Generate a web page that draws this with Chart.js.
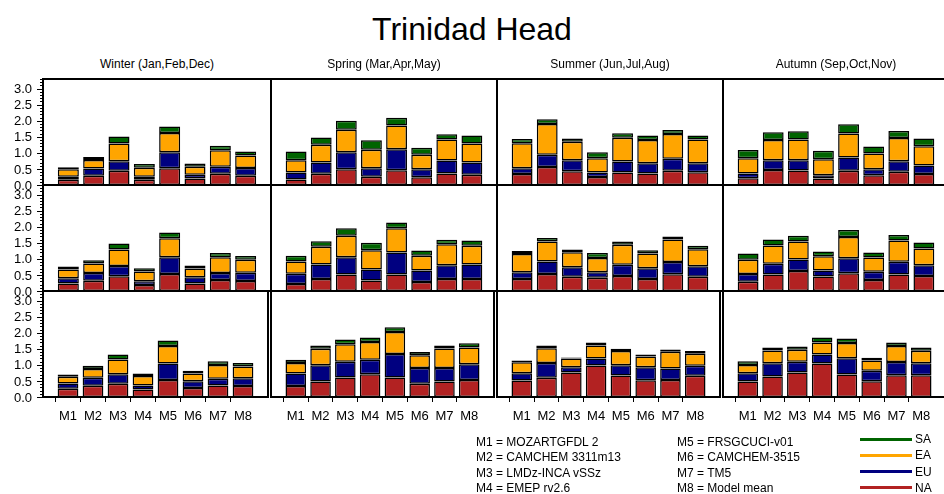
<!DOCTYPE html>
<html>
<head>
<meta charset="utf-8">
<script src="https://cdn.jsdelivr.net/npm/chart.js@4.4.1/dist/chart.umd.min.js"></script>
<style>
  body { margin: 0; background: #fff; width: 944px; height: 494px; overflow: hidden; position: relative;
         font-family: "Liberation Sans", Arial, sans-serif; color: #000; }
  canvas { position: absolute; }
  .txt { position: absolute; white-space: nowrap; line-height: 1; }
  .title { font-size: 32px; }
  .season { font-size: 12px; transform: translateX(-50%); }
  .leg { font-size: 12px; }
  .legline { position: absolute; height: 3px; }
</style>
</head>
<body>
<script>
// Trinidad Head: contribution by source region, per season and model
const models = ['M1', 'M2', 'M3', 'M4', 'M5', 'M6', 'M7', 'M8'];
const seasons = ['Winter (Jan,Feb,Dec)', 'Spring (Mar,Apr,May)', 'Summer (Jun,Jul,Aug)', 'Autumn (Sep,Oct,Nov)'];
const modelNames = ['MOZARTGFDL 2', 'CAMCHEM 3311m13', 'LMDz-INCA vSSz', 'EMEP rv2.6',
                    'FRSGCUCI-v01', 'CAMCHEM-3515', 'TM5', 'Model mean'];
const regions = ['NA', 'EU', 'EA', 'SA'];
const regionColors = ['#b22222', '#000080', '#ffa500', '#006400'];
const yTicks = [0, 0.5, 1.0, 1.5, 2.0, 2.5, 3.0];

// [row][season] -> 8 model values
const naData = [
  [[.16,.29,.44,.16,.52,.20,.35,.29], [.17,.35,.49,.26,.46,.24,.36,.32], [.34,.56,.43,.25,.39,.36,.44,.40], [.21,.47,.45,.20,.44,.30,.41,.34]],
  [[.23,.32,.46,.19,.53,.23,.34,.31], [.22,.375,.51,.33,.51,.28,.375,.375], [.375,.53,.44,.41,.47,.375,.52,.44], [.29,.51,.625,.45,.55,.34,.51,.47]],
  [[.26,.35,.41,.23,.53,.28,.36,.34], [.34,.48,.61,.71,.61,.41,.48,.53], [.51,.60,.76,.98,.67,.52,.53,.66], [.48,.635,.76,1.04,.70,.49,.68,.68]]
];
const euData = [
  [[.10,.22,.30,.10,.50,.12,.22,.24], [.22,.35,.53,.26,.65,.25,.40,.38], [.18,.38,.34,.14,.34,.32,.38,.28], [.15,.30,.32,.10,.42,.19,.33,.27]],
  [[.17,.24,.32,.11,.52,.20,.22,.26], [.32,.45,.54,.34,.69,.36,.43,.45], [.21,.39,.30,.17,.35,.33,.38,.33], [.24,.34,.355,.19,.47,.26,.40,.33]],
  [[.16,.25,.30,.13,.51,.21,.21,.24], [.39,.51,.49,.45,.73,.49,.42,.49], [.23,.46,.17,.22,.32,.41,.355,.31], [.26,.415,.34,.28,.51,.33,.41,.37]]
];
const eaData = [
  [[.23,.27,.55,.28,.60,.25,.51,.39], [.38,.55,.70,.58,.74,.45,.66,.59], [.78,.96,.58,.44,.74,.72,.77,.74], [.47,.63,.65,.50,.74,.49,.72,.60]],
  [[.27,.30,.51,.31,.59,.27,.49,.40], [.38,.55,.67,.60,.75,.46,.65,.58], [.57,.62,.47,.45,.62,.46,.70,.53], [.44,.57,.56,.44,.66,.44,.66,.52]],
  [[.21,.27,.46,.29,.55,.24,.43,.37], [.33,.51,.54,.55,.68,.40,.61,.52], [.34,.46,.27,.40,.44,.33,.52,.38], [.26,.40,.37,.38,.47,.315,.50,.39]]
];
const saData = [
  [[.06,.09,.22,.11,.20,.10,.14,.12], [.27,.23,.28,.29,.24,.22,.16,.25], [.13,.15,.10,.19,.14,.14,.12,.12], [.26,.24,.25,.27,.29,.22,.22,.24]],
  [[.09,.10,.19,.10,.18,.09,.13,.12], [.18,.17,.23,.23,.18,.16,.14,.17], [.09,.11,.08,.15,.10,.10,.10,.11], [.20,.18,.18,.15,.22,.16,.17,.19]],
  [[.07,.10,.15,.08,.17,.09,.11,.11], [.10,.10,.15,.14,.15,.10,.09,.13], [.06,.08,.03,.10,.07,.06,.07,.08], [.11,.09,.10,.15,.14,.09,.11,.10]]
];
const allData = [naData, euData, eaData, saData];

// panel geometry (plot area)
const colLeft = [43, 271, 497, 723];
const colRight = [271, 497, 723, 949];
const rowTop = 79;
const rowH = 106;
const yAxisW = 45, padTop = 8, padRight = 4, xAxisH = 30;

function addText(cls, text, x, y) {
  const d = document.createElement('div');
  d.className = 'txt ' + cls;
  d.textContent = text;
  d.style.left = x + 'px';
  d.style.top = y + 'px';
  document.body.appendChild(d);
  return d;
}

// panel frame, plus y tick marks and labels on the left column
const frame = {
  id: 'frame',
  afterDraw(chart) {
    const { ctx, chartArea: a } = chart;
    ctx.save();
    ctx.strokeStyle = '#000';
    ctx.lineWidth = 2;
    ctx.strokeRect(a.left, a.top, a.right - a.left, a.bottom - a.top);
    if (chart.options.plugins.frame.yAxis) {
      const y = chart.scales.y;
      ctx.lineWidth = 1;
      ctx.beginPath();
      for (let i = 0; i <= 33; i++) {
        const py = Math.round(y.getPixelForValue(i / 10)) + 0.5;
        const len = i % 5 === 0 ? 6 : 3;
        ctx.moveTo(a.left - len, py);
        ctx.lineTo(a.left, py);
      }
      ctx.stroke();
      ctx.fillStyle = '#000';
      ctx.font = '13px "Liberation Sans", Arial, sans-serif';
      ctx.textAlign = 'right';
      ctx.textBaseline = 'middle';
      yTicks.forEach(v => ctx.fillText(v.toFixed(1), a.left - 11, y.getPixelForValue(v) + 1));
    }
    ctx.restore();
  }
};

const labels = ['', ...models, ''];

for (let r = 0; r < 3; r++) {
  for (let c = 0; c < 4; c++) {
    const plotW = colRight[c] - colLeft[c];
    const cv = document.createElement('canvas');
    cv.width = plotW + yAxisW + padRight;
    cv.height = rowH + padTop + xAxisH;
    cv.style.left = (colLeft[c] - yAxisW) + 'px';
    cv.style.top = (rowTop + r * rowH - padTop) + 'px';
    document.body.appendChild(cv);

    const datasets = regions.map((reg, k) => ({
      label: reg,
      data: [null, ...allData[k][r][c], null],
      backgroundColor: regionColors[k],
      borderColor: '#000',
      borderWidth: 1.5,
      borderSkipped: false,
      barPercentage: 0.83,
      categoryPercentage: 1
    }));

    const showX = r === 2;

    new Chart(cv, {
      type: 'bar',
      data: { labels: labels, datasets: datasets },
      plugins: [frame],
      options: {
        responsive: false,
        animation: false,
        events: [],
        layout: { padding: { top: padTop, right: padRight, left: 0, bottom: 0 } },
        plugins: {
          legend: { display: false },
          tooltip: { enabled: false },
          frame: { yAxis: c === 0 }
        },
        scales: {
          x: {
            stacked: true,
            offset: false,
            border: { display: false },
            grid: {
              display: showX,
              drawOnChartArea: false,
              drawTicks: true,
              tickLength: 5,
              tickWidth: 1,
              tickColor: ctx => (ctx.tick && ctx.tick.label) ? '#000' : 'rgba(0,0,0,0)'
            },
            ticks: {
              display: showX,
              autoSkip: false,
              maxRotation: 0,
              padding: 7,
              color: '#000',
              font: { family: '"Liberation Sans", Arial, sans-serif', size: 13 }
            },
            afterFit: s => { s.height = xAxisH; }
          },
          y: {
            stacked: true,
            min: 0,
            max: 3.3,
            border: { display: false },
            grid: { display: false },
            ticks: { display: false },
            afterFit: s => { s.width = yAxisW; }
          }
        }
      }
    });
  }
}

// titles
const t = addText('title', 'Trinidad Head', 472, 13);
t.style.transform = 'translateX(-50%)';
seasons.forEach((s, c) => addText('season', s, (colLeft[c] + colRight[c]) / 2, 58));

// model legend
models.forEach((m, i) => {
  const x = i < 4 ? 476 : 677;
  addText('leg', m + ' = ' + modelNames[i], x, 436 + (i % 4) * 15.4);
});

// region legend (top to bottom: SA, EA, EU, NA)
for (let k = regions.length - 1, i = 0; k >= 0; k--, i++) {
  const y = 439 + i * 16.3;
  const line = document.createElement('div');
  line.className = 'legline';
  line.style.left = '860px';
  line.style.width = '52px';
  line.style.top = (y - 1.5) + 'px';
  line.style.background = regionColors[k];
  document.body.appendChild(line);
  addText('leg', regions[k], 915, y - 6);
}
</script>
</body>
</html>
